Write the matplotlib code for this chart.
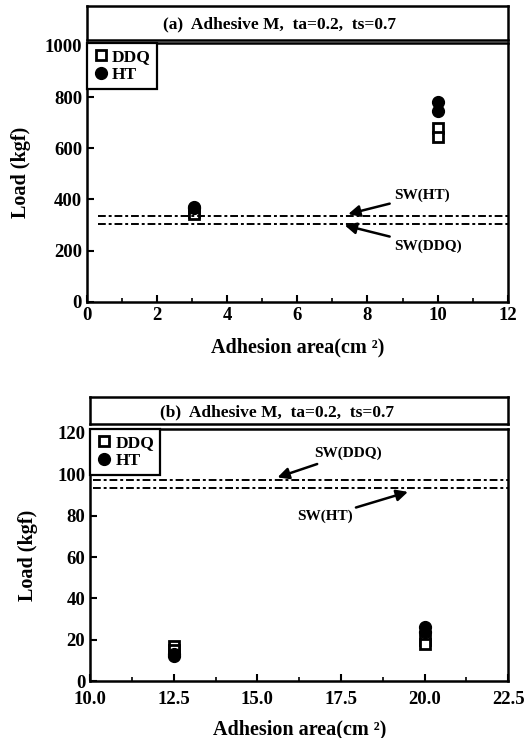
import numpy as np
import matplotlib
matplotlib.use('Agg')
import matplotlib.pyplot as plt
from matplotlib.ticker import MultipleLocator

plt.rcParams['font.family'] = ['Liberation Serif', 'DejaVu Serif']
plt.rcParams['font.weight'] = 'bold'
plt.rcParams['axes.labelweight'] = 'bold'

# panel (a): adhesion area 3.1 and 10 cm2
a_ddq_x = [3.05, 3.05, 10.0, 10.0]
a_ddq_y = [350, 345, 680, 645]
a_ht_x = [3.05, 3.05, 10.0, 10.0]
a_ht_y = [365, 370, 780, 745]
a_sw_ht = 335
a_sw_ddq = 305

# panel (b): adhesion area 12.5 and 20 cm2
b_ddq_x = [12.5, 12.5, 20.0, 20.0]
b_ddq_y = [17, 15, 20, 18]
b_ht_x = [12.5, 12.5, 20.0, 20.0]
b_ht_y = [13, 12, 26, 24]
b_sw_ddq = 97
b_sw_ht = 93.5

title = 'Adhesive M,  ta=0.2,  ts=0.7'

fig = plt.figure(figsize=(5.24, 7.38), dpi=100)


def title_box(rect, text, xpos):
    tax = fig.add_axes(rect)
    tax.set_xticks([])
    tax.set_yticks([])
    for s in tax.spines.values():
        s.set_linewidth(1.8)
    tax.text(xpos, 0.45, text, ha='center', va='center', fontsize=12.5,
             fontweight='bold', transform=tax.transAxes)


def style(ax):
    for s in ax.spines.values():
        s.set_linewidth(1.8)
    ax.tick_params(which='both', direction='in', top=False, right=False,
                   labelsize=13.5)
    ax.tick_params(which='major', length=5, width=1.5)
    ax.tick_params(which='minor', length=3, width=1.2)
    for lab in ax.get_xticklabels() + ax.get_yticklabels():
        lab.set_fontweight('bold')
    leg = ax.legend(loc='upper left', borderaxespad=0, fancybox=False,
                    edgecolor='black', fontsize=12.5, handletextpad=0.2,
                    handlelength=0.9, borderpad=0.35, labelspacing=0.1,
                    framealpha=1)
    leg.get_frame().set_linewidth(1.6)
    for t in leg.get_texts():
        t.set_fontweight('bold')


dd = dict(dashes=(4, 1.5, 1.5, 1.5), color='black', linewidth=1.4)
arrow = dict(arrowstyle='-|>', color='black', lw=1.8, mutation_scale=17,
             shrinkB=0)

# ---- (a)
title_box([0.166, 0.946, 0.803, 0.046], '(a)  ' + title, 0.458)
ax1 = fig.add_axes([0.166, 0.591, 0.803, 0.351])
ax1.plot(a_ddq_x, a_ddq_y, 's', ms=7.5, mfc='white', mec='black', mew=2,
         ls='none', label='DDQ')
ax1.plot(a_ht_x, a_ht_y, 'o', ms=8.5, color='black', ls='none', label='HT')
ax1.plot([0.3, 12], [a_sw_ht, a_sw_ht], **dd)
ax1.plot([0.3, 12], [a_sw_ddq, a_sw_ddq], **dd)
ax1.annotate('SW(HT)', xy=(7.45, a_sw_ht + 8), xytext=(8.75, 415),
             fontsize=11, fontweight='bold', va='center',
             arrowprops=dict(arrow, shrinkA=1))
ax1.annotate('SW(DDQ)', xy=(7.35, a_sw_ddq - 6), xytext=(8.75, 218),
             fontsize=11, fontweight='bold', va='center',
             arrowprops=dict(arrow, shrinkA=1))
ax1.set_xlim(0, 12)
ax1.set_ylim(0, 1012)
ax1.xaxis.set_major_locator(MultipleLocator(2))
ax1.xaxis.set_minor_locator(MultipleLocator(1))
ax1.yaxis.set_major_locator(MultipleLocator(200))
ax1.set_xlabel('Adhesion area(cm ²)', fontsize=14.5, fontweight='bold',
               labelpad=10)
ax1.set_ylabel('Load (kgf)', fontsize=14.5, fontweight='bold', labelpad=10)
style(ax1)

# ---- (b)
title_box([0.172, 0.425, 0.798, 0.037], '(b)  ' + title, 0.447)
ax2 = fig.add_axes([0.172, 0.077, 0.798, 0.342])
ax2.plot(b_ddq_x, b_ddq_y, 's', ms=7.5, mfc='white', mec='black', mew=2,
         ls='none', label='DDQ')
ax2.plot(b_ht_x, b_ht_y, 'o', ms=8.5, color='black', ls='none', label='HT')
ax2.plot([10.1, 22.5], [b_sw_ddq, b_sw_ddq], **dd)
ax2.plot([10.1, 22.5], [b_sw_ht, b_sw_ht], **dd)
ax2.annotate('SW(DDQ)', xy=(15.6, b_sw_ddq + 1.5), xytext=(16.7, 110),
             fontsize=11, fontweight='bold', va='center',
             arrowprops=dict(arrow, shrinkA=2))
ax2.annotate('SW(HT)', xy=(19.5, b_sw_ht - 2), xytext=(16.2, 79.5),
             fontsize=11, fontweight='bold', va='center',
             arrowprops=dict(arrow, shrinkA=48))
ax2.set_xlim(10, 22.5)
ax2.set_ylim(0, 122)
ax2.xaxis.set_major_locator(MultipleLocator(2.5))
ax2.xaxis.set_minor_locator(MultipleLocator(1.25))
ax2.yaxis.set_major_locator(MultipleLocator(20))
ax2.xaxis.set_major_formatter(plt.FormatStrFormatter('%.1f'))
ax2.set_xlabel('Adhesion area(cm ²)', fontsize=14.5, fontweight='bold',
               labelpad=8)
ax2.set_ylabel('Load (kgf)', fontsize=14.5, fontweight='bold', labelpad=14)
style(ax2)
ax2.tick_params(axis='x', which='major', pad=7)

fig.savefig('out.png', dpi=100)
